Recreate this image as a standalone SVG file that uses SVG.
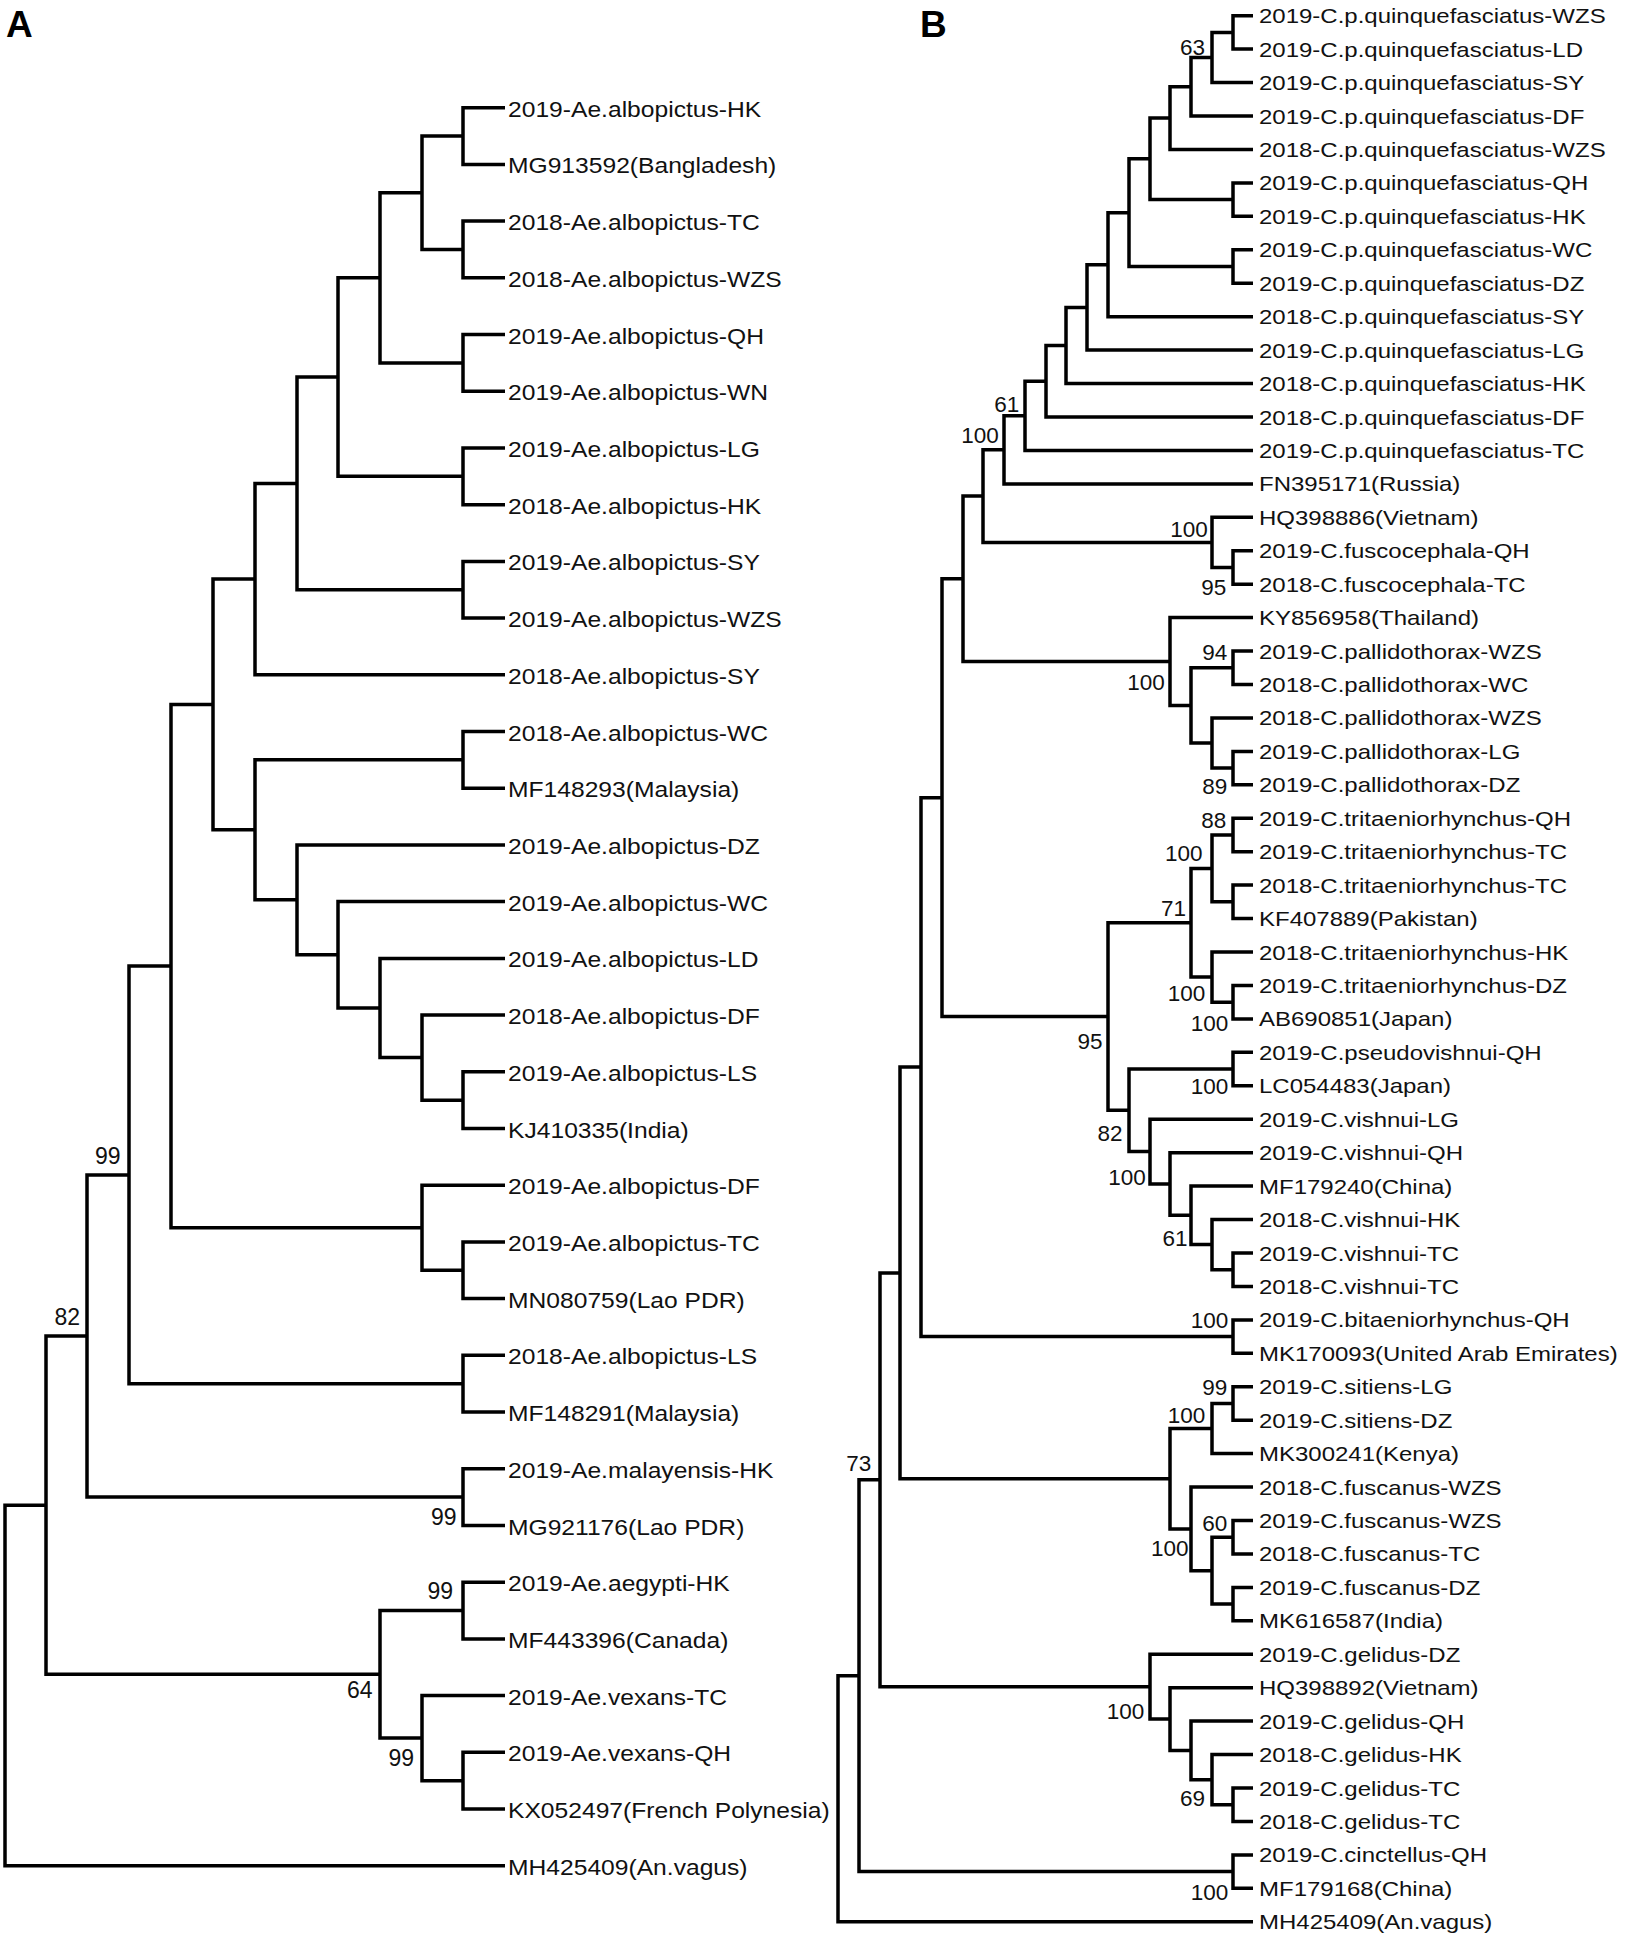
<svg xmlns="http://www.w3.org/2000/svg" width="1625" height="1936" viewBox="0 0 1625 1936">
<style>
.br{fill:none;stroke:#000;stroke-width:3.5;stroke-linejoin:miter;stroke-linecap:butt}
.la{font-family:"Liberation Sans",Arial,sans-serif;font-size:22px;fill:#111}
.lb{font-family:"Liberation Sans",Arial,sans-serif;font-size:20px;fill:#111}
.sa{font-family:"Liberation Sans",Arial,sans-serif;font-size:23px;fill:#111;text-anchor:end}
.sb{font-family:"Liberation Sans",Arial,sans-serif;font-size:22.5px;fill:#111;text-anchor:middle}
.pl{font-family:"Liberation Sans",Arial,sans-serif;font-size:37px;font-weight:bold;fill:#000}
</style>
<rect width="1625" height="1936" fill="#fff"/>
<g id="panel-labels">
<text class="pl" x="6" y="37">A</text>
<text class="pl" x="920" y="37">B</text>
</g>
<g id="connectors-A">
<path class="br" d="M505 107.7 H463 V164.4 H505"/>
<path class="br" d="M505 221.1 H463 V277.8 H505"/>
<path class="br" d="M463 136.05 H422 V249.45 H463"/>
<path class="br" d="M505 334.5 H463 V391.3 H505"/>
<path class="br" d="M422 192.75 H380 V362.9 H463"/>
<path class="br" d="M505 448 H463 V504.7 H505"/>
<path class="br" d="M380 277.8 H338 V476.35 H463"/>
<path class="br" d="M505 561.4 H463 V618.1 H505"/>
<path class="br" d="M338 377.1 H297 V589.75 H463"/>
<path class="br" d="M297 483.4 H255 V674.8 H505"/>
<path class="br" d="M505 731.5 H463 V788.2 H505"/>
<path class="br" d="M505 1071.8 H463 V1128.5 H505"/>
<path class="br" d="M505 1015.1 H422 V1100.15 H463"/>
<path class="br" d="M505 958.4 H380 V1057.6 H422"/>
<path class="br" d="M505 901.6 H338 V1008 H380"/>
<path class="br" d="M505 844.9 H297 V954.8 H338"/>
<path class="br" d="M463 759.85 H255 V899.85 H297"/>
<path class="br" d="M255 579.1 H213 V829.85 H255"/>
<path class="br" d="M505 1241.9 H463 V1298.6 H505"/>
<path class="br" d="M505 1185.2 H422 V1270.25 H463"/>
<path class="br" d="M213 704.5 H171 V1227.7 H422"/>
<path class="br" d="M505 1355.3 H463 V1412 H505"/>
<path class="br" d="M171 966.1 H129 V1383.65 H463"/>
<path class="br" d="M505 1468.7 H463 V1525.5 H505"/>
<path class="br" d="M129 1174.9 H87 V1497.1 H463"/>
<path class="br" d="M505 1582.2 H463 V1638.9 H505"/>
<path class="br" d="M505 1752.3 H463 V1809 H505"/>
<path class="br" d="M505 1695.6 H422 V1780.65 H463"/>
<path class="br" d="M463 1610.55 H380 V1738.1 H422"/>
<path class="br" d="M87 1336 H46 V1674.3 H380"/>
<path class="br" d="M46 1505.15 H5 V1865.7 H505"/>
</g>
<g id="connectors-B">
<path class="br" d="M1253 15.7 H1233 V49.1 H1253"/>
<path class="br" d="M1233 32.4 H1212 V82.6 H1253"/>
<path class="br" d="M1212 57.5 H1191 V116 H1253"/>
<path class="br" d="M1191 86.75 H1170 V149.5 H1253"/>
<path class="br" d="M1253 182.9 H1233 V216.3 H1253"/>
<path class="br" d="M1170 118.1 H1150 V199.6 H1233"/>
<path class="br" d="M1253 249.8 H1233 V283.2 H1253"/>
<path class="br" d="M1150 158.85 H1129 V266.5 H1233"/>
<path class="br" d="M1129 212.7 H1108 V316.7 H1253"/>
<path class="br" d="M1108 264.7 H1087 V350.1 H1253"/>
<path class="br" d="M1087 307.4 H1066 V383.5 H1253"/>
<path class="br" d="M1066 345.45 H1046 V417 H1253"/>
<path class="br" d="M1046 381.2 H1025 V450.4 H1253"/>
<path class="br" d="M1025 415.8 H1004 V483.9 H1253"/>
<path class="br" d="M1253 550.7 H1233 V584.2 H1253"/>
<path class="br" d="M1253 517.3 H1212 V567.45 H1233"/>
<path class="br" d="M1004 449.85 H983 V542.4 H1212"/>
<path class="br" d="M1253 651.1 H1233 V684.5 H1253"/>
<path class="br" d="M1253 751.4 H1233 V784.8 H1253"/>
<path class="br" d="M1253 717.9 H1212 V768.1 H1233"/>
<path class="br" d="M1233 667.8 H1191 V743 H1212"/>
<path class="br" d="M1253 617.6 H1170 V705.4 H1191"/>
<path class="br" d="M983 496.1 H963 V661.5 H1170"/>
<path class="br" d="M1253 818.3 H1233 V851.7 H1253"/>
<path class="br" d="M1253 885.1 H1233 V918.6 H1253"/>
<path class="br" d="M1233 835 H1212 V901.85 H1233"/>
<path class="br" d="M1253 985.5 H1233 V1018.9 H1253"/>
<path class="br" d="M1253 952 H1212 V1002.2 H1233"/>
<path class="br" d="M1212 868.4 H1191 V977.1 H1212"/>
<path class="br" d="M1253 1052.3 H1233 V1085.8 H1253"/>
<path class="br" d="M1253 1253 H1233 V1286.4 H1253"/>
<path class="br" d="M1253 1219.5 H1212 V1269.7 H1233"/>
<path class="br" d="M1253 1186.1 H1191 V1244.6 H1212"/>
<path class="br" d="M1253 1152.7 H1170 V1215.35 H1191"/>
<path class="br" d="M1253 1119.2 H1150 V1184 H1170"/>
<path class="br" d="M1233 1069.05 H1129 V1151.6 H1150"/>
<path class="br" d="M1191 922.75 H1108 V1110.3 H1129"/>
<path class="br" d="M963 578.8 H942 V1016.5 H1108"/>
<path class="br" d="M1253 1319.9 H1233 V1353.3 H1253"/>
<path class="br" d="M942 797.65 H921 V1336.6 H1233"/>
<path class="br" d="M1253 1386.7 H1233 V1420.2 H1253"/>
<path class="br" d="M1233 1403.45 H1212 V1453.6 H1253"/>
<path class="br" d="M1253 1520.5 H1233 V1553.9 H1253"/>
<path class="br" d="M1253 1587.4 H1233 V1620.8 H1253"/>
<path class="br" d="M1233 1537.2 H1212 V1604.1 H1233"/>
<path class="br" d="M1253 1487.1 H1191 V1570.65 H1212"/>
<path class="br" d="M1212 1428.5 H1170 V1528.9 H1191"/>
<path class="br" d="M921 1067.1 H900 V1478.7 H1170"/>
<path class="br" d="M1253 1788 H1233 V1821.5 H1253"/>
<path class="br" d="M1253 1754.6 H1212 V1804.75 H1233"/>
<path class="br" d="M1253 1721.1 H1191 V1779.7 H1212"/>
<path class="br" d="M1253 1687.7 H1170 V1750.4 H1191"/>
<path class="br" d="M1253 1654.3 H1150 V1719.05 H1170"/>
<path class="br" d="M900 1272.9 H880 V1686.7 H1150"/>
<path class="br" d="M1253 1854.9 H1233 V1888.3 H1253"/>
<path class="br" d="M880 1479.8 H859 V1871.6 H1233"/>
<path class="br" d="M859 1675.7 H838 V1921.8 H1253"/>
</g>
<g id="nodes-A">
<g id="a0" transform="translate(508 116.7) scale(1.12 1)"><text class="la">2019-Ae.albopictus-HK</text></g>
<g id="a1" transform="translate(508 173.4) scale(1.12 1)"><text class="la">MG913592(Bangladesh)</text></g>
<g id="a2" transform="translate(508 230.1) scale(1.12 1)"><text class="la">2018-Ae.albopictus-TC</text></g>
<g id="a3" transform="translate(508 286.8) scale(1.12 1)"><text class="la">2018-Ae.albopictus-WZS</text></g>
<g id="a4" transform="translate(508 343.5) scale(1.12 1)"><text class="la">2019-Ae.albopictus-QH</text></g>
<g id="a5" transform="translate(508 400.3) scale(1.12 1)"><text class="la">2019-Ae.albopictus-WN</text></g>
<g id="a6" transform="translate(508 457) scale(1.12 1)"><text class="la">2019-Ae.albopictus-LG</text></g>
<g id="a7" transform="translate(508 513.7) scale(1.12 1)"><text class="la">2018-Ae.albopictus-HK</text></g>
<g id="a8" transform="translate(508 570.4) scale(1.12 1)"><text class="la">2019-Ae.albopictus-SY</text></g>
<g id="a9" transform="translate(508 627.1) scale(1.12 1)"><text class="la">2019-Ae.albopictus-WZS</text></g>
<g id="a10" transform="translate(508 683.8) scale(1.12 1)"><text class="la">2018-Ae.albopictus-SY</text></g>
<g id="a11" transform="translate(508 740.5) scale(1.12 1)"><text class="la">2018-Ae.albopictus-WC</text></g>
<g id="a12" transform="translate(508 797.2) scale(1.12 1)"><text class="la">MF148293(Malaysia)</text></g>
<g id="a13" transform="translate(508 853.9) scale(1.12 1)"><text class="la">2019-Ae.albopictus-DZ</text></g>
<g id="a14" transform="translate(508 910.6) scale(1.12 1)"><text class="la">2019-Ae.albopictus-WC</text></g>
<g id="a15" transform="translate(508 967.4) scale(1.12 1)"><text class="la">2019-Ae.albopictus-LD</text></g>
<g id="a16" transform="translate(508 1024.1) scale(1.12 1)"><text class="la">2018-Ae.albopictus-DF</text></g>
<g id="a17" transform="translate(508 1080.8) scale(1.12 1)"><text class="la">2019-Ae.albopictus-LS</text></g>
<g id="a18" transform="translate(508 1137.5) scale(1.12 1)"><text class="la">KJ410335(India)</text></g>
<g id="a19" transform="translate(508 1194.2) scale(1.12 1)"><text class="la">2019-Ae.albopictus-DF</text></g>
<g id="a20" transform="translate(508 1250.9) scale(1.12 1)"><text class="la">2019-Ae.albopictus-TC</text></g>
<g id="a21" transform="translate(508 1307.6) scale(1.12 1)"><text class="la">MN080759(Lao PDR)</text></g>
<g id="a22" transform="translate(508 1364.3) scale(1.12 1)"><text class="la">2018-Ae.albopictus-LS</text></g>
<g id="a23" transform="translate(508 1421) scale(1.12 1)"><text class="la">MF148291(Malaysia)</text></g>
<g id="a24" transform="translate(508 1477.7) scale(1.12 1)"><text class="la">2019-Ae.malayensis-HK</text></g>
<g id="a25" transform="translate(508 1534.5) scale(1.12 1)"><text class="la">MG921176(Lao PDR)</text></g>
<g id="a26" transform="translate(508 1591.2) scale(1.12 1)"><text class="la">2019-Ae.aegypti-HK</text></g>
<g id="a27" transform="translate(508 1647.9) scale(1.12 1)"><text class="la">MF443396(Canada)</text></g>
<g id="a28" transform="translate(508 1704.6) scale(1.12 1)"><text class="la">2019-Ae.vexans-TC</text></g>
<g id="a29" transform="translate(508 1761.3) scale(1.12 1)"><text class="la">2019-Ae.vexans-QH</text></g>
<g id="a30" transform="translate(508 1818) scale(1.12 1)"><text class="la">KX052497(French Polynesia)</text></g>
<g id="a31" transform="translate(508 1874.7) scale(1.12 1)"><text class="la">MH425409(An.vagus)</text></g>
</g>
<g id="support-A">
<text class="sa" x="120.5" y="1164">99</text>
<text class="sa" x="80" y="1325">82</text>
<text class="sa" x="456.5" y="1525">99</text>
<text class="sa" x="453" y="1599">99</text>
<text class="sa" x="372.5" y="1698">64</text>
<text class="sa" x="414" y="1766">99</text>
</g>
<g id="nodes-B">
<g id="b0" transform="translate(1259 23.2) scale(1.2 1)"><text class="lb">2019-C.p.quinquefasciatus-WZS</text></g>
<g id="b1" transform="translate(1259 56.6) scale(1.2 1)"><text class="lb">2019-C.p.quinquefasciatus-LD</text></g>
<g id="b2" transform="translate(1259 90.1) scale(1.2 1)"><text class="lb">2019-C.p.quinquefasciatus-SY</text></g>
<g id="b3" transform="translate(1259 123.5) scale(1.2 1)"><text class="lb">2019-C.p.quinquefasciatus-DF</text></g>
<g id="b4" transform="translate(1259 157) scale(1.2 1)"><text class="lb">2018-C.p.quinquefasciatus-WZS</text></g>
<g id="b5" transform="translate(1259 190.4) scale(1.2 1)"><text class="lb">2019-C.p.quinquefasciatus-QH</text></g>
<g id="b6" transform="translate(1259 223.8) scale(1.2 1)"><text class="lb">2019-C.p.quinquefasciatus-HK</text></g>
<g id="b7" transform="translate(1259 257.3) scale(1.2 1)"><text class="lb">2019-C.p.quinquefasciatus-WC</text></g>
<g id="b8" transform="translate(1259 290.7) scale(1.2 1)"><text class="lb">2019-C.p.quinquefasciatus-DZ</text></g>
<g id="b9" transform="translate(1259 324.2) scale(1.2 1)"><text class="lb">2018-C.p.quinquefasciatus-SY</text></g>
<g id="b10" transform="translate(1259 357.6) scale(1.2 1)"><text class="lb">2019-C.p.quinquefasciatus-LG</text></g>
<g id="b11" transform="translate(1259 391) scale(1.2 1)"><text class="lb">2018-C.p.quinquefasciatus-HK</text></g>
<g id="b12" transform="translate(1259 424.5) scale(1.2 1)"><text class="lb">2018-C.p.quinquefasciatus-DF</text></g>
<g id="b13" transform="translate(1259 457.9) scale(1.2 1)"><text class="lb">2019-C.p.quinquefasciatus-TC</text></g>
<g id="b14" transform="translate(1259 491.4) scale(1.2 1)"><text class="lb">FN395171(Russia)</text></g>
<g id="b15" transform="translate(1259 524.8) scale(1.2 1)"><text class="lb">HQ398886(Vietnam)</text></g>
<g id="b16" transform="translate(1259 558.2) scale(1.2 1)"><text class="lb">2019-C.fuscocephala-QH</text></g>
<g id="b17" transform="translate(1259 591.7) scale(1.2 1)"><text class="lb">2018-C.fuscocephala-TC</text></g>
<g id="b18" transform="translate(1259 625.1) scale(1.2 1)"><text class="lb">KY856958(Thailand)</text></g>
<g id="b19" transform="translate(1259 658.6) scale(1.2 1)"><text class="lb">2019-C.pallidothorax-WZS</text></g>
<g id="b20" transform="translate(1259 692) scale(1.2 1)"><text class="lb">2018-C.pallidothorax-WC</text></g>
<g id="b21" transform="translate(1259 725.4) scale(1.2 1)"><text class="lb">2018-C.pallidothorax-WZS</text></g>
<g id="b22" transform="translate(1259 758.9) scale(1.2 1)"><text class="lb">2019-C.pallidothorax-LG</text></g>
<g id="b23" transform="translate(1259 792.3) scale(1.2 1)"><text class="lb">2019-C.pallidothorax-DZ</text></g>
<g id="b24" transform="translate(1259 825.8) scale(1.2 1)"><text class="lb">2019-C.tritaeniorhynchus-QH</text></g>
<g id="b25" transform="translate(1259 859.2) scale(1.2 1)"><text class="lb">2019-C.tritaeniorhynchus-TC</text></g>
<g id="b26" transform="translate(1259 892.6) scale(1.2 1)"><text class="lb">2018-C.tritaeniorhynchus-TC</text></g>
<g id="b27" transform="translate(1259 926.1) scale(1.2 1)"><text class="lb">KF407889(Pakistan)</text></g>
<g id="b28" transform="translate(1259 959.5) scale(1.2 1)"><text class="lb">2018-C.tritaeniorhynchus-HK</text></g>
<g id="b29" transform="translate(1259 993) scale(1.2 1)"><text class="lb">2019-C.tritaeniorhynchus-DZ</text></g>
<g id="b30" transform="translate(1259 1026.4) scale(1.2 1)"><text class="lb">AB690851(Japan)</text></g>
<g id="b31" transform="translate(1259 1059.8) scale(1.2 1)"><text class="lb">2019-C.pseudovishnui-QH</text></g>
<g id="b32" transform="translate(1259 1093.3) scale(1.2 1)"><text class="lb">LC054483(Japan)</text></g>
<g id="b33" transform="translate(1259 1126.7) scale(1.2 1)"><text class="lb">2019-C.vishnui-LG</text></g>
<g id="b34" transform="translate(1259 1160.2) scale(1.2 1)"><text class="lb">2019-C.vishnui-QH</text></g>
<g id="b35" transform="translate(1259 1193.6) scale(1.2 1)"><text class="lb">MF179240(China)</text></g>
<g id="b36" transform="translate(1259 1227) scale(1.2 1)"><text class="lb">2018-C.vishnui-HK</text></g>
<g id="b37" transform="translate(1259 1260.5) scale(1.2 1)"><text class="lb">2019-C.vishnui-TC</text></g>
<g id="b38" transform="translate(1259 1293.9) scale(1.2 1)"><text class="lb">2018-C.vishnui-TC</text></g>
<g id="b39" transform="translate(1259 1327.4) scale(1.2 1)"><text class="lb">2019-C.bitaeniorhynchus-QH</text></g>
<g id="b40" transform="translate(1259 1360.8) scale(1.2 1)"><text class="lb">MK170093(United Arab Emirates)</text></g>
<g id="b41" transform="translate(1259 1394.2) scale(1.2 1)"><text class="lb">2019-C.sitiens-LG</text></g>
<g id="b42" transform="translate(1259 1427.7) scale(1.2 1)"><text class="lb">2019-C.sitiens-DZ</text></g>
<g id="b43" transform="translate(1259 1461.1) scale(1.2 1)"><text class="lb">MK300241(Kenya)</text></g>
<g id="b44" transform="translate(1259 1494.6) scale(1.2 1)"><text class="lb">2018-C.fuscanus-WZS</text></g>
<g id="b45" transform="translate(1259 1528) scale(1.2 1)"><text class="lb">2019-C.fuscanus-WZS</text></g>
<g id="b46" transform="translate(1259 1561.4) scale(1.2 1)"><text class="lb">2018-C.fuscanus-TC</text></g>
<g id="b47" transform="translate(1259 1594.9) scale(1.2 1)"><text class="lb">2019-C.fuscanus-DZ</text></g>
<g id="b48" transform="translate(1259 1628.3) scale(1.2 1)"><text class="lb">MK616587(India)</text></g>
<g id="b49" transform="translate(1259 1661.8) scale(1.2 1)"><text class="lb">2019-C.gelidus-DZ</text></g>
<g id="b50" transform="translate(1259 1695.2) scale(1.2 1)"><text class="lb">HQ398892(Vietnam)</text></g>
<g id="b51" transform="translate(1259 1728.6) scale(1.2 1)"><text class="lb">2019-C.gelidus-QH</text></g>
<g id="b52" transform="translate(1259 1762.1) scale(1.2 1)"><text class="lb">2018-C.gelidus-HK</text></g>
<g id="b53" transform="translate(1259 1795.5) scale(1.2 1)"><text class="lb">2019-C.gelidus-TC</text></g>
<g id="b54" transform="translate(1259 1829) scale(1.2 1)"><text class="lb">2018-C.gelidus-TC</text></g>
<g id="b55" transform="translate(1259 1862.4) scale(1.2 1)"><text class="lb">2019-C.cinctellus-QH</text></g>
<g id="b56" transform="translate(1259 1895.8) scale(1.2 1)"><text class="lb">MF179168(China)</text></g>
<g id="b57" transform="translate(1259 1929.3) scale(1.2 1)"><text class="lb">MH425409(An.vagus)</text></g>
</g>
<g id="support-B">
<text class="sb" x="1192.5" y="54.7">63</text>
<text class="sb" x="1006.8" y="412">61</text>
<text class="sb" x="980" y="443">100</text>
<text class="sb" x="1189" y="537.3">100</text>
<text class="sb" x="1213.7" y="595.3">95</text>
<text class="sb" x="1214.7" y="659.7">94</text>
<text class="sb" x="1146" y="689.7">100</text>
<text class="sb" x="1214.7" y="794">89</text>
<text class="sb" x="1213.7" y="828">88</text>
<text class="sb" x="1183.8" y="861.3">100</text>
<text class="sb" x="1173.5" y="916.3">71</text>
<text class="sb" x="1186.4" y="1001.3">100</text>
<text class="sb" x="1209.6" y="1031.3">100</text>
<text class="sb" x="1089.9" y="1049">95</text>
<text class="sb" x="1209.6" y="1094">100</text>
<text class="sb" x="1110" y="1140.7">82</text>
<text class="sb" x="1127" y="1184.7">100</text>
<text class="sb" x="1175" y="1246.3">61</text>
<text class="sb" x="1209.6" y="1328">100</text>
<text class="sb" x="1214.7" y="1395.3">99</text>
<text class="sb" x="1186.4" y="1423">100</text>
<text class="sb" x="858.7" y="1471.3">73</text>
<text class="sb" x="1214.7" y="1531.3">60</text>
<text class="sb" x="1169.8" y="1556.3">100</text>
<text class="sb" x="1125.5" y="1718.7">100</text>
<text class="sb" x="1192.5" y="1806.3">69</text>
<text class="sb" x="1209.6" y="1899.7">100</text>
</g>
</svg>
